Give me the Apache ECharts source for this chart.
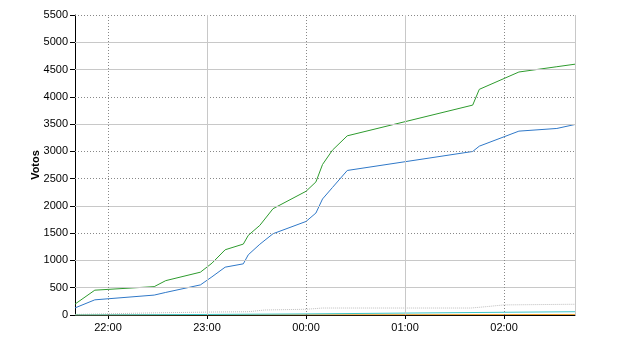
<!DOCTYPE html>
<html>
<head>
<meta charset="utf-8">
<script src="https://cdn.jsdelivr.net/npm/echarts@6/dist/echarts.min.js"></script>
<style>html,body{margin:0;padding:0;background:#fff}#c{width:640px;height:350px}</style>
</head>
<body>
<div id="c"></div>
<script>
// ---- data ----
const mainTimes  = ["21:40","21:52","22:28","22:35","22:56","23:03","23:11","23:22","23:25","23:32","23:40","00:00","00:06","00:10","00:16","00:25","01:41","01:45","02:09","02:32","02:43"];
const greenVals  = [200, 455, 520, 630, 785, 950, 1196, 1300, 1460, 1643, 1949, 2268, 2440, 2759, 3022, 3285, 3848, 4137, 4455, 4552, 4598];
const blueVals   = [130, 278, 365, 414, 552, 700, 877, 938, 1104, 1297, 1490, 1715, 1870, 2127, 2337, 2650, 2998, 3095, 3371, 3420, 3493];
const grayTimes  = ["21:40","22:30","23:05","23:25","23:35","00:00","00:05","00:10","01:40","01:50","02:00","02:43"];
const grayVals   = [10, 40, 55, 60, 92, 105, 116, 128, 128, 155, 185, 197];
const cyanTimes  = ["21:40","23:00","00:00","01:00","02:00","02:43"];
const cyanVals   = [0, 10, 20, 35, 50, 60];
const orangeTimes= ["21:40","00:00","01:00","02:00","02:43"];
const orangeVals = [0, 3, 6, 8, 10];
const xTickLabels = ["22:00","23:00","00:00","01:00","02:00"];
const xSolid = ["23:00","01:00"];
const xDotted = ["22:00","00:00","02:00"];
const ySolid = [500, 1000, 2000, 3500, 4500, 5000];
const yDotted = [1500, 2500, 3000, 4000, 5500];
const xStart = "21:40", xEnd = "02:43";

// minutes relative to 22:00
function tm(s){ const p=s.split(':'); let h=+p[0], m=+p[1]; if(h<12) h+=24; return (h-22)*60+m; }
function pairs(ts, vs){ return ts.map((t,i)=>[tm(t), vs[i]]); }
const tickMins = xTickLabels.map(tm);

const chart = echarts.init(document.getElementById('c'), null, {renderer:'canvas'});
const font = 'Liberation Sans, Arial, sans-serif';
const gridLines = [];
ySolid.forEach(v=>gridLines.push({yAxis:v, lineStyle:{color:'#c8c8c8', type:'solid', width:1}}));
yDotted.forEach(v=>gridLines.push({yAxis:v, lineStyle:{color:'#888', type:[1,2], width:1}}));
xSolid.forEach(t=>gridLines.push({xAxis:tm(t), lineStyle:{color:'#c8c8c8', type:'solid', width:1}}));
xDotted.forEach(t=>gridLines.push({xAxis:tm(t), lineStyle:{color:'#888', type:[1,2], width:1}}));
gridLines.push({xAxis:tm(xEnd), lineStyle:{color:'#c8c8c8', type:'solid', width:1}});

const lineSeries = (name, data, color, type) => ({
  name, type:'line', data, showSymbol:false, symbol:'none', z:3,
  lineStyle:{color, width:1, type: type||'solid'}, itemStyle:{color}
});

chart.setOption({
  animation:false,
  grid:{left:75, right:65, top:15, bottom:35},
  xAxis:{
    type:'value', min:tm(xStart), max:tm(xEnd),
    axisLine:{show:true, onZero:false, lineStyle:{color:'#000', width:1}},
    axisTick:{show:true, length:4, customValues:tickMins, lineStyle:{color:'#000'}},
    axisLabel:{customValues:tickMins, color:'#000', fontFamily:font, fontSize:11, margin:7,
      formatter:v=>{ const i=tickMins.indexOf(v); return i>=0?xTickLabels[i]:''; }},
    splitLine:{show:false}
  },
  yAxis:{
    type:'value', min:0, max:5500, interval:500,
    name:'Votos', nameLocation:'middle', nameGap:34, nameRotate:90, nameMoveOverlap:false,
    nameTextStyle:{fontFamily:font, fontSize:11, fontWeight:'bold', color:'#000'},
    axisLine:{show:true, onZero:false, lineStyle:{color:'#000', width:1}},
    axisTick:{show:true, length:5, lineStyle:{color:'#000'}},
    axisLabel:{color:'#000', fontFamily:font, fontSize:11, margin:7, formatter:v=>String(v)},
    splitLine:{show:false}
  },
  series:[
    {type:'line', data:[], z:1, silent:true,
     markLine:{silent:true, symbol:['none','none'], label:{show:false}, animation:false, data:gridLines}},
    lineSeries('gray', pairs(grayTimes, grayVals), '#bdbdbd', 'dotted'),
    lineSeries('orange', pairs(orangeTimes, orangeVals), '#f0a030'),
    lineSeries('cyan', pairs(cyanTimes, cyanVals), '#3cc6c8'),
    lineSeries('blue', pairs(mainTimes, blueVals), '#2f78c8'),
    lineSeries('green', pairs(mainTimes, greenVals), '#2e9b2e')
  ]
});
</script>
</body>
</html>
